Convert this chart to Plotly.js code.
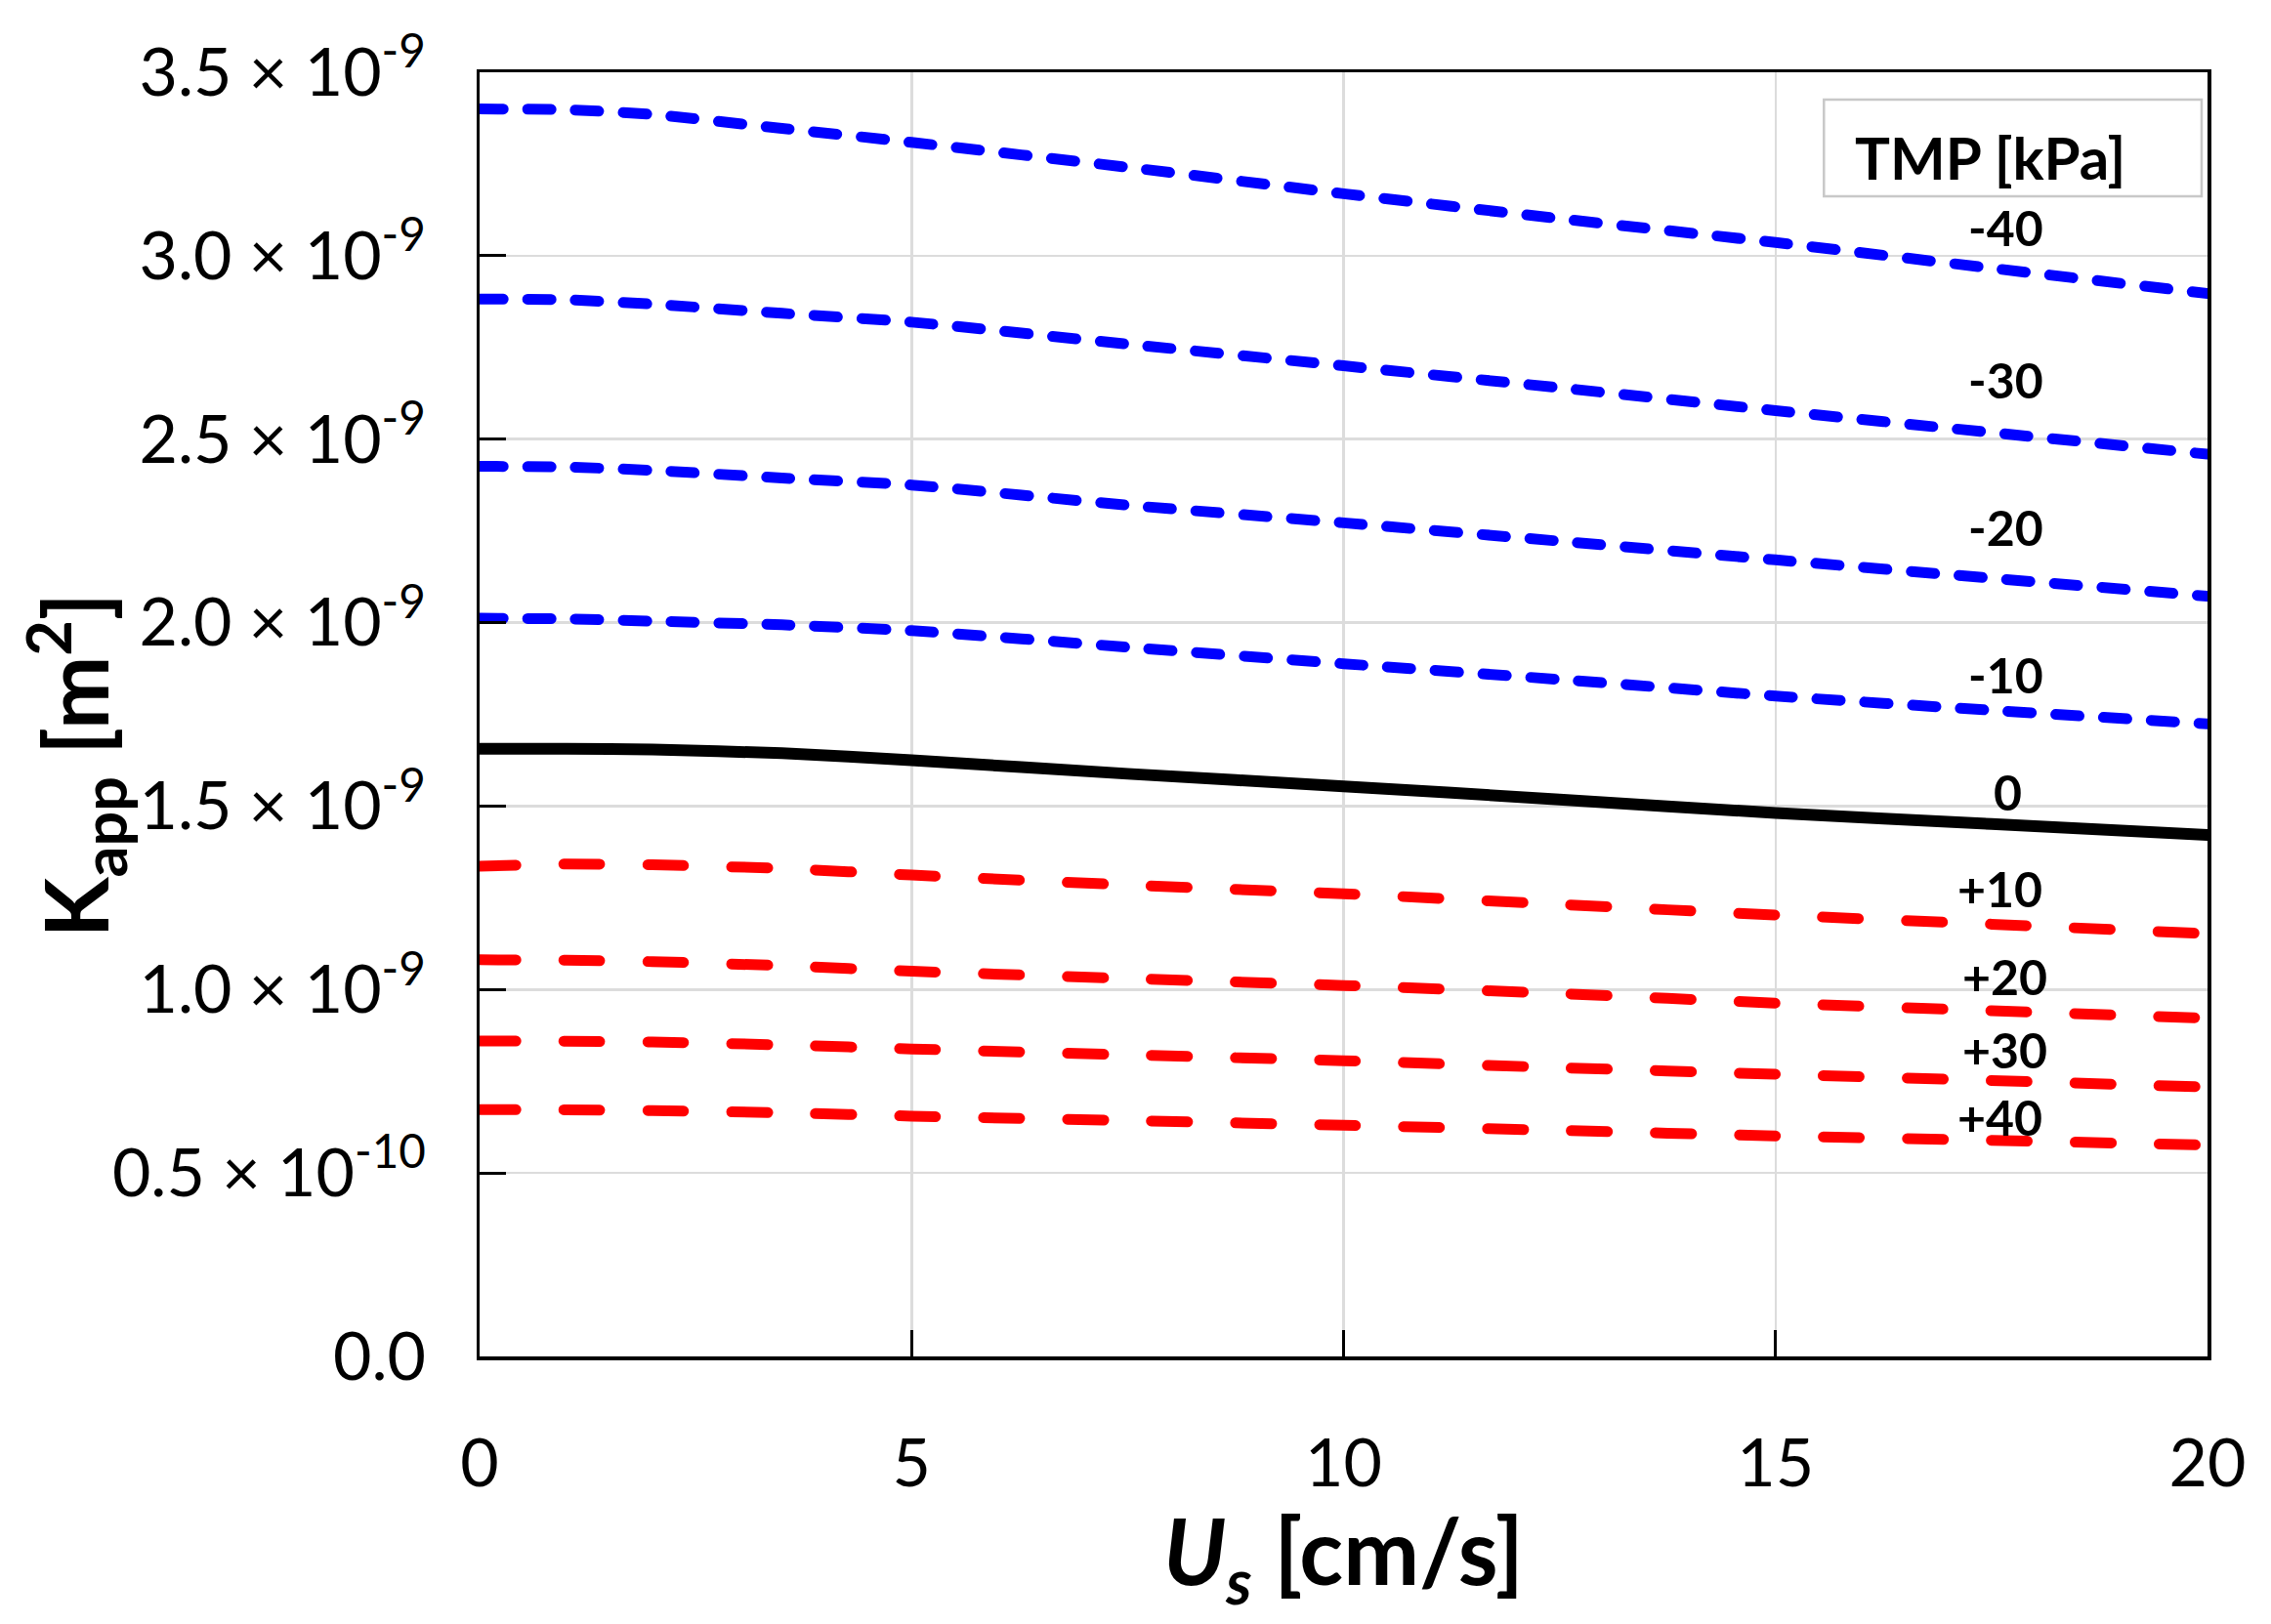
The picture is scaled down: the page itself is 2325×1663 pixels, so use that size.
<!DOCTYPE html>
<html>
<head>
<meta charset="utf-8">
<script src="https://cdn.plot.ly/plotly-3.0.1.min.js"></script>
<style>
  html, body { margin: 0; padding: 0; background: #fff; }
  #plot { width: 2325px; height: 1663px; }
  /* rounded dash ends like the original figure */
  .scatterlayer .js-line { stroke-linecap: round; }
</style>
</head>
<body>
<div id="plot"></div>
<script>
	// Superficial velocity U_s [cm/s]
	const us = [0, 1, 2, 3.5, 5, 7.5, 10, 12.5, 15, 17.5, 20];

	// Apparent permeability K_app, in units of 1e-9 m^2, one array per TMP
	const kMinus40 = [3.400, 3.398, 3.385, 3.347, 3.309, 3.241, 3.169, 3.101, 3.036, 2.966, 2.897];
	const kMinus30 = [2.882, 2.880, 2.868, 2.843, 2.819, 2.759, 2.700, 2.640, 2.578, 2.518, 2.459];
	const kMinus20 = [2.426, 2.424, 2.415, 2.394, 2.375, 2.320, 2.272, 2.222, 2.171, 2.121, 2.072];
	const kMinus10 = [2.012, 2.010, 2.004, 1.994, 1.978, 1.933, 1.888, 1.845, 1.800, 1.761, 1.724];
	const kZero    = [1.656, 1.656, 1.654, 1.644, 1.625, 1.588, 1.554, 1.518, 1.481, 1.451, 1.421];
	const kPlus10  = [1.336, 1.342, 1.340, 1.330, 1.312, 1.285, 1.261, 1.232, 1.203, 1.178, 1.152];
	const kPlus20  = [1.081, 1.080, 1.076, 1.065, 1.050, 1.030, 1.011, 0.989, 0.963, 0.942, 0.922];
	const kPlus30  = [0.860, 0.859, 0.857, 0.849, 0.838, 0.822, 0.806, 0.787, 0.769, 0.752, 0.734];
	const kPlus40  = [0.673, 0.672, 0.670, 0.664, 0.655, 0.643, 0.630, 0.616, 0.601, 0.589, 0.576];

	const tmpLabels = ['-40', '-30', '-20', '-10', '0', '+10', '+20', '+30', '+40'];
	const labelX = [17.67, 17.67, 17.67, 17.67, 17.69, 17.6, 17.65, 17.65, 17.6];
	const labelY = [3.077, 2.662, 2.26, 1.858, 1.539, 1.274, 1.035, 0.835, 0.652];

	const yTickVals = [0, 0.5, 1.0, 1.5, 2.0, 2.5, 3.0, 3.5];
	const yTickText = [
		'0.0',
		'0.5 × 10<sup>-10</sup>',
		'1.0 × 10<sup>-9</sup>',
		'1.5 × 10<sup>-9</sup>',
		'2.0 × 10<sup>-9</sup>',
		'2.5 × 10<sup>-9</sup>',
		'3.0 × 10<sup>-9</sup>',
		'3.5 × 10<sup>-9</sup>'
	];
	const xTickVals = [0, 5, 10, 15, 20];

	const FONT = 'Lato, "Open Sans", sans-serif';

	function curve(y, color, dash, width) {
		return {
			x: us,
			y: y,
			mode: 'lines',
			line: { color: color, dash: dash, width: width, shape: 'spline', smoothing: 0.6 },
			hoverinfo: 'skip',
			showlegend: false
		};
	}

	const blueDash = '24px,25px';
	const redDash = '37px,49px';

	const data = [
		curve(kMinus40, '#0000ff', blueDash, 11),
		curve(kMinus30, '#0000ff', blueDash, 11),
		curve(kMinus20, '#0000ff', blueDash, 11),
		curve(kMinus10, '#0000ff', blueDash, 11),
		curve(kZero, '#000000', 'solid', 12),
		curve(kPlus10, '#ff0000', redDash, 11),
		curve(kPlus20, '#ff0000', redDash, 11),
		curve(kPlus30, '#ff0000', redDash, 11),
		curve(kPlus40, '#ff0000', redDash, 11)
	];

	// Curve labels
	const annotations = tmpLabels.map((t, i) => ({
		x: labelX[i],
		y: labelY[i],
		xref: 'x',
		yref: 'y',
		text: '<b>' + t + '</b>',
		showarrow: false,
		font: { family: FONT, size: 50, color: '#000' },
		xanchor: 'center',
		yanchor: 'middle'
	}));

	// Legend title
	annotations.push({
		x: 0.8745, y: 0.934, xref: 'paper', yref: 'paper',
		text: '<b>TMP [kPa]</b>', showarrow: false,
		font: { family: FONT, size: 60, color: '#000' },
		xanchor: 'center', yanchor: 'middle'
	});

	// Axis titles
	annotations.push({
		x: 0.5, y: -0.156, xref: 'paper', yref: 'paper',
		text: '<b><i>U<sub>s</sub></i> [cm/s]</b>', showarrow: false,
		font: { family: FONT, size: 93, color: '#000' },
		xanchor: 'center', yanchor: 'middle'
	});
	annotations.push({
		x: -0.234, y: 0.46, xref: 'paper', yref: 'paper',
		text: '<b>K<sub>app</sub> [m<sup>2</sup>]</b>', showarrow: false,
		textangle: -90,
		font: { family: FONT, size: 90, color: '#000' },
		xanchor: 'center', yanchor: 'middle'
	});

	const axisCommon = {
		ticks: 'inside',
		ticklen: 27,
		tickwidth: 3,
		tickcolor: '#000',
		showline: true,
		mirror: true,
		linecolor: '#000',
		linewidth: 3.5,
		showgrid: true,
		gridcolor: '#dcdcdc',
		gridwidth: 2.5,
		zeroline: false,
		layer: 'above traces',
		tickfont: { family: FONT, size: 68, color: '#000' }
	};

	const layout = {
		width: 2325,
		height: 1663,
		paper_bgcolor: '#ffffff',
		plot_bgcolor: '#ffffff',
		margin: { l: 491, r: 65, t: 74, b: 274 },
		font: { family: FONT, color: '#000' },
		showlegend: false,
		xaxis: Object.assign({}, axisCommon, {
			range: [0, 20],
			tickvals: xTickVals,
			ticklabelstandoff: 48
		}),
		yaxis: Object.assign({}, axisCommon, {
			range: [0, 3.5],
			tickvals: yTickVals,
			ticktext: yTickText,
			ticklabelstandoff: 38
		}),
		shapes: [{
			type: 'rect',
			xref: 'paper', yref: 'paper',
			x0: 0.778, x1: 0.9966, y0: 0.9034, y1: 0.9787,
			fillcolor: '#ffffff',
			line: { color: '#c8c8c8', width: 2.5 },
			layer: 'above'
		}],
		annotations: annotations
	};

	Plotly.newPlot('plot', data, layout, { displayModeBar: false, staticPlot: true });
</script>
</body>
</html>
